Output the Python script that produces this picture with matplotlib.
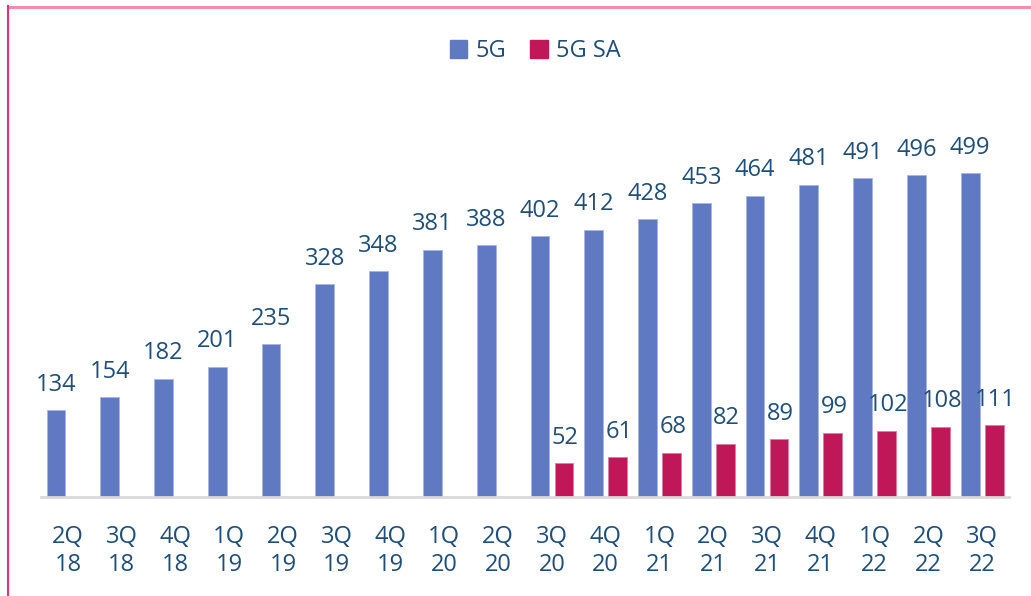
import matplotlib.pyplot as plt
import numpy as np
from matplotlib.lines import Line2D
from matplotlib.patches import Patch

quarters = ["2Q\n18", "3Q\n18", "4Q\n18", "1Q\n19", "2Q\n19", "3Q\n19", "4Q\n19", "1Q\n20", "2Q\n20",
            "3Q\n20", "4Q\n20", "1Q\n21", "2Q\n21", "3Q\n21", "4Q\n21", "1Q\n22", "2Q\n22", "3Q\n22"]
fiveg = [134, 154, 182, 201, 235, 328, 348, 381, 388, 402, 412, 428, 453, 464, 481, 491, 496, 499]
# 5G SA only reported from 3Q20 onwards
fiveg_sa = [None] * 9 + [52, 61, 68, 82, 89, 99, 102, 108, 111]

blue = "#6079C3"
red = "#C01759"
text_col = "#1F4E79"

plt.rcParams['font.family'] = ['Open Sans', 'DejaVu Sans']

fig = plt.figure(figsize=(10.31, 5.96), dpi=100)
ax = fig.add_axes([0.0398, 0.1661, 0.9389, 0.6534])

x = np.arange(len(quarters))
off = 0.223
w = 0.35

ax.bar(x - off, fiveg, width=w, color=blue, edgecolor="#A9B6E0", linewidth=0.6)
sa_x = [xi + off for xi, v in zip(x, fiveg_sa) if v is not None]
sa_v = [v for v in fiveg_sa if v is not None]
ax.bar(sa_x, sa_v, width=w, color=red, edgecolor="#E07AA0", linewidth=0.6)

for xi, v in zip(x - off, fiveg):
    ax.annotate(str(v), (xi, v), xytext=(0, 14), textcoords="offset points",
                ha="center", va="baseline", fontsize=17, color=text_col)
for xi, v in zip(sa_x, sa_v):
    ax.annotate(str(v), (xi, v), xytext=(1, 14), textcoords="offset points",
                ha="center", va="baseline", fontsize=17, color=text_col)

ax.set_xlim(-0.5, len(quarters) - 0.5)
ax.set_ylim(0, 600)
ax.set_xticks(x)
ax.set_xticklabels(quarters, fontsize=17, color=text_col, linespacing=1.25)
ax.tick_params(axis="x", length=0, pad=20)
ax.set_yticks([])
for s in ["top", "right", "left"]:
    ax.spines[s].set_visible(False)
ax.spines["bottom"].set_color("#D9D9D9")
ax.spines["bottom"].set_linewidth(2)

handles = [Patch(color=blue, label="5G"), Patch(color=red, label="5G SA")]
fig.legend(handles=handles, loc="center", bbox_to_anchor=(0.519, 0.914), ncol=2, frameon=False,
           fontsize=17, labelcolor=text_col, handlelength=0.75, handleheight=0.75,
           handletextpad=0.35, columnspacing=1.0)

# pink frame lines
fig.add_artist(Line2D([8 / 1031, 1], [1 - 6.5 / 596, 1 - 6.5 / 596], color="#F08DB1", linewidth=2.2))
fig.add_artist(Line2D([8 / 1031, 8 / 1031], [0, 1 - 6 / 596], color="#E2327B", linewidth=1.5))

fig.savefig("out.png", dpi=100)
